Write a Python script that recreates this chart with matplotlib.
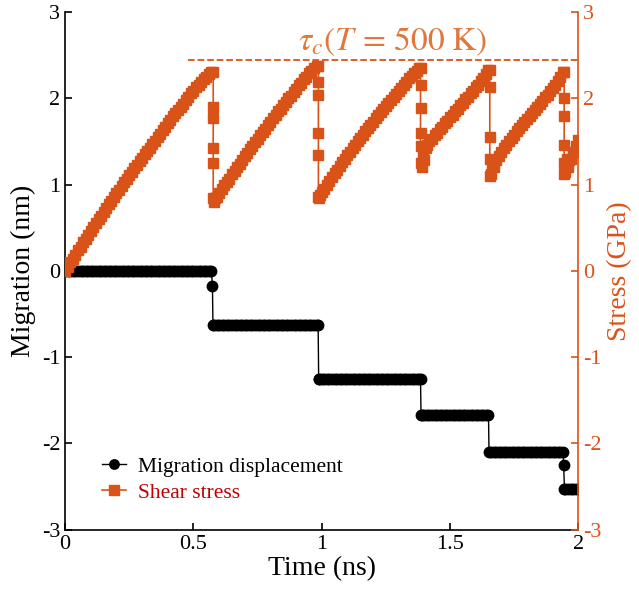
import matplotlib
matplotlib.use('Agg')
import matplotlib.pyplot as plt

plt.rcParams['font.family'] = ['Liberation Serif', 'DejaVu Serif']
plt.rcParams['mathtext.fontset'] = 'stix'
plt.rcParams['axes.unicode_minus'] = False

ORANGE = '#D95319'

# shear stress (GPa) vs time (ns)
t_stress = [0.00, 0.01, 0.02, 0.03, 0.04, 0.05, 0.06, 0.07, 0.08, 0.09,
            0.10, 0.11, 0.12, 0.13, 0.14, 0.15, 0.16, 0.17, 0.18, 0.19,
            0.20, 0.21, 0.22, 0.23, 0.24, 0.25, 0.26, 0.27, 0.28, 0.29,
            0.30, 0.31, 0.32, 0.33, 0.34, 0.35, 0.36, 0.37, 0.38, 0.39,
            0.40, 0.41, 0.42, 0.43, 0.44, 0.45, 0.46, 0.47, 0.48, 0.49,
            0.50, 0.51, 0.52, 0.53, 0.54, 0.55, 0.56, 0.57,
            0.577, 0.577, 0.577, 0.577, 0.577, 0.577, 0.58, 0.585,
            0.59, 0.60, 0.61, 0.62, 0.63, 0.64, 0.65, 0.66, 0.67, 0.68,
            0.69, 0.70, 0.71, 0.72, 0.73, 0.74, 0.75, 0.76, 0.77, 0.78,
            0.79, 0.80, 0.81, 0.82, 0.83, 0.84, 0.85, 0.86, 0.87, 0.88,
            0.89, 0.90, 0.91, 0.92, 0.93, 0.94, 0.95, 0.96, 0.97, 0.98,
            0.987, 0.987, 0.987, 0.987, 0.987, 0.987, 0.99, 0.995,
            1.00, 1.01, 1.02, 1.03, 1.04, 1.05, 1.06, 1.07, 1.08, 1.09,
            1.10, 1.11, 1.12, 1.13, 1.14, 1.15, 1.16, 1.17, 1.18, 1.19,
            1.20, 1.21, 1.22, 1.23, 1.24, 1.25, 1.26, 1.27, 1.28, 1.29,
            1.30, 1.31, 1.32, 1.33, 1.34, 1.35, 1.36, 1.37, 1.38,
            1.385, 1.385, 1.385, 1.385, 1.385, 1.385, 1.39, 1.395,
            1.40, 1.405, 1.41, 1.42, 1.43, 1.44, 1.45, 1.46, 1.47, 1.48,
            1.49, 1.50, 1.51, 1.52, 1.53, 1.54, 1.55, 1.56, 1.57, 1.58,
            1.59, 1.60, 1.61, 1.62, 1.63, 1.64, 1.65,
            1.655, 1.655, 1.655, 1.655, 1.655, 1.66, 1.665, 1.67,
            1.68, 1.69, 1.70, 1.71, 1.72, 1.73, 1.74, 1.75, 1.76, 1.77,
            1.78, 1.79, 1.80, 1.81, 1.82, 1.83, 1.84, 1.85, 1.86, 1.87,
            1.88, 1.89, 1.90, 1.91, 1.92, 1.93, 1.94,
            1.945, 1.945, 1.945, 1.945, 1.945, 1.945, 1.95, 1.955,
            1.96, 1.965, 1.97, 1.98, 1.99, 2.00]
stress = [0.00, 0.05, 0.10, 0.14, 0.19, 0.24, 0.28, 0.33, 0.37, 0.42,
          0.46, 0.51, 0.55, 0.60, 0.64, 0.68, 0.73, 0.77, 0.81, 0.86,
          0.90, 0.94, 0.98, 1.03, 1.07, 1.11, 1.15, 1.19, 1.23, 1.27,
          1.31, 1.35, 1.39, 1.43, 1.47, 1.51, 1.55, 1.59, 1.63, 1.67,
          1.71, 1.75, 1.79, 1.83, 1.87, 1.90, 1.94, 1.98, 2.02, 2.06,
          2.09, 2.13, 2.16, 2.19, 2.22, 2.25, 2.28, 2.31,
          2.31, 1.90, 1.77, 1.43, 1.25, 0.85, 0.80, 0.84,
          0.86, 0.90, 0.95, 0.99, 1.03, 1.07, 1.12, 1.16, 1.20, 1.24,
          1.29, 1.33, 1.37, 1.41, 1.45, 1.49, 1.53, 1.57, 1.61, 1.65,
          1.69, 1.73, 1.77, 1.81, 1.85, 1.88, 1.92, 1.96, 2.00, 2.03,
          2.07, 2.11, 2.15, 2.18, 2.22, 2.25, 2.29, 2.32, 2.35, 2.38,
          2.38, 2.19, 2.04, 1.60, 1.34, 0.86, 0.84, 0.88,
          0.91, 0.95, 1.00, 1.04, 1.09, 1.13, 1.17, 1.22, 1.26, 1.30,
          1.34, 1.38, 1.42, 1.46, 1.50, 1.54, 1.58, 1.62, 1.66, 1.69,
          1.73, 1.77, 1.81, 1.84, 1.88, 1.91, 1.95, 1.98, 2.02, 2.05,
          2.09, 2.12, 2.16, 2.19, 2.23, 2.26, 2.29, 2.32, 2.35,
          2.35, 2.16, 1.89, 1.60, 1.45, 1.25, 1.20, 1.35,
          1.28, 1.42, 1.46, 1.50, 1.53, 1.57, 1.60, 1.64, 1.67, 1.71,
          1.74, 1.78, 1.81, 1.85, 1.88, 1.92, 1.95, 1.99, 2.02, 2.06,
          2.09, 2.13, 2.16, 2.20, 2.24, 2.28, 2.33,
          2.33, 2.13, 1.55, 1.30, 1.10, 1.12, 1.25, 1.20,
          1.28, 1.33, 1.38, 1.42, 1.46, 1.50, 1.54, 1.58, 1.62, 1.66,
          1.69, 1.73, 1.76, 1.80, 1.83, 1.87, 1.90, 1.94, 1.97, 2.01,
          2.04, 2.08, 2.12, 2.16, 2.20, 2.25, 2.30,
          2.30, 2.00, 1.80, 1.46, 1.25, 1.12, 1.15, 1.30,
          1.20, 1.28, 1.30, 1.38, 1.45, 1.52]

# migration displacement (nm) vs time (ns)
t_mig = [0.00, 0.01, 0.02, 0.03, 0.04, 0.05, 0.06, 0.07, 0.08, 0.09,
         0.10, 0.11, 0.12, 0.13, 0.14, 0.15, 0.16, 0.17, 0.18, 0.19,
         0.20, 0.21, 0.22, 0.23, 0.24, 0.25, 0.26, 0.27, 0.28, 0.29,
         0.30, 0.31, 0.32, 0.33, 0.34, 0.35, 0.36, 0.37, 0.38, 0.39,
         0.40, 0.41, 0.42, 0.43, 0.44, 0.45, 0.46, 0.47, 0.48, 0.49,
         0.50, 0.51, 0.52, 0.53, 0.54, 0.55, 0.56, 0.57,
         0.574,
         0.576, 0.58, 0.59, 0.60, 0.61, 0.62, 0.63, 0.64, 0.65, 0.66,
         0.67, 0.68, 0.69, 0.70, 0.71, 0.72, 0.73, 0.74, 0.75, 0.76,
         0.77, 0.78, 0.79, 0.80, 0.81, 0.82, 0.83, 0.84, 0.85, 0.86,
         0.87, 0.88, 0.89, 0.90, 0.91, 0.92, 0.93, 0.94, 0.95, 0.96,
         0.97, 0.98, 0.986,
         0.988, 0.99, 1.00, 1.01, 1.02, 1.03, 1.04, 1.05, 1.06, 1.07,
         1.08, 1.09, 1.10, 1.11, 1.12, 1.13, 1.14, 1.15, 1.16, 1.17,
         1.18, 1.19, 1.20, 1.21, 1.22, 1.23, 1.24, 1.25, 1.26, 1.27,
         1.28, 1.29, 1.30, 1.31, 1.32, 1.33, 1.34, 1.35, 1.36, 1.37,
         1.38, 1.385,
         1.387, 1.39, 1.40, 1.41, 1.42, 1.43, 1.44, 1.45, 1.46, 1.47,
         1.48, 1.49, 1.50, 1.51, 1.52, 1.53, 1.54, 1.55, 1.56, 1.57,
         1.58, 1.59, 1.60, 1.61, 1.62, 1.63, 1.64, 1.65,
         1.652, 1.66, 1.67, 1.68, 1.69, 1.70, 1.71, 1.72, 1.73, 1.74,
         1.75, 1.76, 1.77, 1.78, 1.79, 1.80, 1.81, 1.82, 1.83, 1.84,
         1.85, 1.86, 1.87, 1.88, 1.89, 1.90, 1.91, 1.92, 1.93, 1.94,
         1.943,
         1.946, 1.95, 1.96, 1.97, 1.98, 1.99, 2.00]
migration = [0, 0, 0, 0, 0, 0, 0, 0, 0, 0,
             0, 0, 0, 0, 0, 0, 0, 0, 0, 0,
             0, 0, 0, 0, 0, 0, 0, 0, 0, 0,
             0, 0, 0, 0, 0, 0, 0, 0, 0, 0,
             0, 0, 0, 0, 0, 0, 0, 0, 0, 0,
             0, 0, 0, 0, 0, 0, 0, 0,
             -0.17,
             -0.63, -0.63, -0.63, -0.63, -0.63, -0.63, -0.63, -0.63, -0.63, -0.63,
             -0.63, -0.63, -0.63, -0.63, -0.63, -0.63, -0.63, -0.63, -0.63, -0.63,
             -0.63, -0.63, -0.63, -0.63, -0.63, -0.63, -0.63, -0.63, -0.63, -0.63,
             -0.63, -0.63, -0.63, -0.63, -0.63, -0.63, -0.63, -0.63, -0.63, -0.63,
             -0.63, -0.63, -0.63,
             -1.25, -1.25, -1.25, -1.25, -1.25, -1.25, -1.25, -1.25, -1.25, -1.25,
             -1.25, -1.25, -1.25, -1.25, -1.25, -1.25, -1.25, -1.25, -1.25, -1.25,
             -1.25, -1.25, -1.25, -1.25, -1.25, -1.25, -1.25, -1.25, -1.25, -1.25,
             -1.25, -1.25, -1.25, -1.25, -1.25, -1.25, -1.25, -1.25, -1.25, -1.25,
             -1.25, -1.25,
             -1.67, -1.67, -1.67, -1.67, -1.67, -1.67, -1.67, -1.67, -1.67, -1.67,
             -1.67, -1.67, -1.67, -1.67, -1.67, -1.67, -1.67, -1.67, -1.67, -1.67,
             -1.67, -1.67, -1.67, -1.67, -1.67, -1.67, -1.67, -1.67,
             -2.10, -2.10, -2.10, -2.10, -2.10, -2.10, -2.10, -2.10, -2.10, -2.10,
             -2.10, -2.10, -2.10, -2.10, -2.10, -2.10, -2.10, -2.10, -2.10, -2.10,
             -2.10, -2.10, -2.10, -2.10, -2.10, -2.10, -2.10, -2.10, -2.10, -2.10,
             -2.25,
             -2.53, -2.53, -2.53, -2.53, -2.53, -2.53, -2.53]

tau_c = 2.44          # critical stress level (GPa)
tau_start = 0.48      # where the dashed line begins (ns)

fig = plt.figure(figsize=(6.39, 6.02), dpi=100)
ax = fig.add_axes([0.102, 0.120, 0.803, 0.860])
ax2 = ax.twinx()

l1, = ax.plot(t_mig, migration, color='black', lw=1.0, marker='o', ms=7.5,
              label='Migration displacement')
l2, = ax2.plot(t_stress, stress, color=ORANGE, lw=1.2, marker='s', ms=7.5,
               label='Shear stress')
ax2.plot([tau_start, 2.0], [tau_c, tau_c], '--', color=ORANGE, lw=1.3)
ax2.text(1.275, 2.47, r'$\tau_c(T\,=\,500\ \mathrm{K})$', color='#E0783C',
         fontsize=24, ha='center', va='bottom')

ax.set_xlim(0, 2)
ax.set_ylim(-3, 3)
ax2.set_ylim(-3, 3)
ax.set_xticks([0, 0.5, 1, 1.5, 2])
ax.set_xticklabels(['0', '0.5', '1', '1.5', '2'])
ax.set_yticks(range(-3, 4))
ax2.set_yticks(range(-3, 4))

for a in (ax, ax2):
    a.spines['top'].set_visible(False)
ax.spines['right'].set_visible(False)
ax2.spines['left'].set_visible(False)
ax2.spines['bottom'].set_visible(False)
ax2.spines['right'].set_color(ORANGE)
ax.spines['left'].set_linewidth(1.2)
ax.spines['bottom'].set_linewidth(1.2)
ax2.spines['right'].set_linewidth(1.2)

ax.tick_params(direction='in', length=5, width=1.2, labelsize=16, colors='black')
ax2.tick_params(direction='in', length=5, width=1.2, labelsize=16, colors=ORANGE)

ax.set_xlabel('Time (ns)', fontsize=20, labelpad=2)
ax.set_ylabel('Migration (nm)', fontsize=20, labelpad=4)
ax2.set_ylabel('Stress (GPa)', fontsize=20, color=ORANGE, labelpad=4)

leg = ax2.legend([l1, l2], ['Migration displacement', 'Shear stress'],
                 loc='lower left', bbox_to_anchor=(0.055, 0.035), frameon=False,
                 fontsize=15.5, handlelength=1.1, handletextpad=0.55,
                 borderaxespad=0, labelspacing=0.3, markerscale=0.9)
leg.get_texts()[1].set_color('#C00000')

fig.savefig('out.png', dpi=100)
